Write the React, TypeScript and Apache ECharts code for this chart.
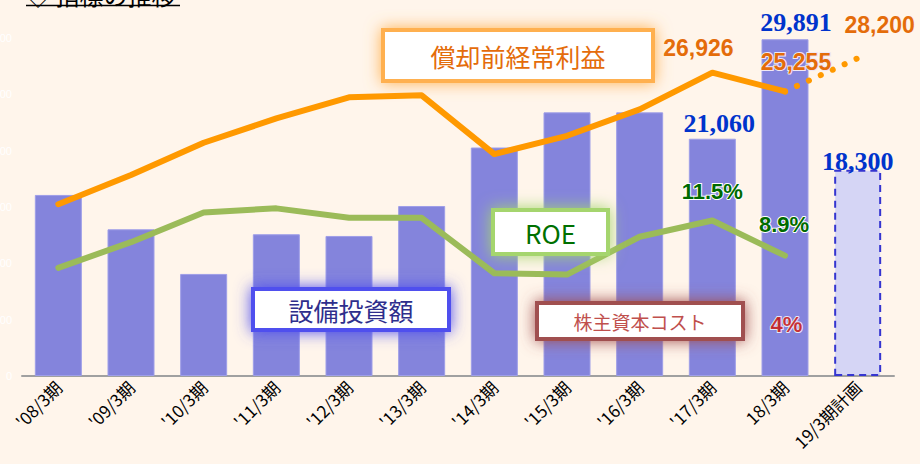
import React, { useEffect, useRef } from "react";
import * as echarts from "echarts";

const categories = ["'08/3期", "'09/3期", "'10/3期", "'11/3期", "'12/3期", "'13/3期", "'14/3期", "'15/3期", "'16/3期", "'17/3期", "18/3期", "19/3期計画"];
const capex = [16070, 13020, 9060, 12580, 12430, 15090, 20280, 23400, 23400, 21060, 29891, 18300];
const ebitda = [15250, 17840, 20700, 22860, 24740, 24910, 19700, 21320, 23660, 26926, 25255, null];
const ebitdaPlan = [null, null, null, null, null, null, null, null, null, null, 25255, 28200];
const roe = [8.0, 9.9, 12.1, 12.4, 11.7, 11.7, 7.6, 7.5, 10.3, 11.5, 8.9, null];
const costOfEquity = [null, null, null, null, null, null, null, null, null, null, 4, null];
const leftTicks = { min: 0, max: 30000, interval: 5000 };
const rightTicks = { min: 0, max: 25 };

const fmt = (v: number) => v.toLocaleString("en-US");

export default function App() {
  const ref = useRef<HTMLDivElement>(null);
  useEffect(() => {
    if (!ref.current) return;
    const chart = echarts.init(ref.current, null, { renderer: "svg" });
    const last = categories.length - 1;

    const blueLabel = {
      show: true,
      position: "top",
      distance: 0,
      color: "#0033CC",
      fontFamily: "Liberation Serif",
      fontWeight: "bold",
      fontSize: 26,
      formatter: (p: any) => fmt(p.value),
    };
    const barOffsets: Record<number, number[]> = { 9: [7, -2], 10: [11, -4], 11: [0, 5] };
    const barData = capex.map((v, i) => {
      const item: any = { value: v };
      if (barOffsets[i]) item.label = { ...blueLabel, offset: barOffsets[i] };
      if (i === last) {
        item.itemStyle = {
          color: "#D5D5F5",
          borderColor: "#3535D0",
          borderWidth: 2,
          borderType: [7, 5],
        };
      }
      return item;
    });

    const orangeLabel = {
      show: true,
      position: "inside",
      color: "#E46C0A",
      fontFamily: "Liberation Sans",
      fontWeight: "bold",
      fontSize: 23,
      formatter: (p: any) => fmt(p.value),
    };
    const ebitdaOffsets: Record<number, number[]> = { 9: [-14, -25], 10: [11, -29] };
    const ebitdaData = ebitda.map((v, i) => {
      const item: any = { value: v };
      if (ebitdaOffsets[i]) {
        item.label = { ...orangeLabel, offset: ebitdaOffsets[i] };
        if (i === 10) {
          item.label.textBorderColor = "#F0E8F4";
          item.label.textBorderWidth = 2;
        }
      }
      return item;
    });
    const planData = ebitdaPlan.map((v, i) => {
      const item: any = { value: v };
      if (i === last) item.label = { ...orangeLabel, offset: [22, -33] };
      return item;
    });

    const greenLabel = {
      show: true,
      position: "inside",
      color: "#006A00",
      fontFamily: "Liberation Sans",
      fontWeight: "bold",
      fontSize: 22,
      textBorderColor: "#ffffff",
      textBorderWidth: 2,
      formatter: (p: any) => p.value.toFixed(1) + "%",
    };
    const roeOffsets: Record<number, number[]> = { 9: [0, -29], 10: [-1, -31] };
    const roeData = roe.map((v, i) => {
      const item: any = { value: v };
      if (roeOffsets[i]) item.label = { ...greenLabel, offset: roeOffsets[i] };
      return item;
    });

    const glowBox = (x: number, y: number, w: number, h: number, glow: string, text: string, color: string, size: number) => [
      {
        type: "rect",
        z: 100,
        shape: { x, y, width: w, height: h },
        style: { fill: "#ffffff", stroke: glow, lineWidth: 4, shadowBlur: 16, shadowColor: glow },
      },
      {
        type: "text",
        z: 101,
        x: x + w / 2,
        y: y + h / 2,
        style: {
          text,
          fill: color,
          fontSize: size,
          fontFamily: "Noto Sans CJK JP",
          align: "center",
          verticalAlign: "middle",
        },
      },
    ];

    chart.setOption({
      animation: false,
      backgroundColor: "#FFF5EB",
      grid: { left: 22, right: 26, top: 38, bottom: 88, containLabel: false, outerBoundsMode: "none" },
      xAxis: {
        type: "category",
        data: categories,
        axisLine: { lineStyle: { color: "#A0A0A0", width: 2 } },
        axisTick: { show: false },
        axisLabel: {
          rotate: 45,
          interval: 0,
          color: "#000",
          fontSize: 17,
          fontFamily: "Noto Sans CJK JP",
          margin: 8,
        },
      },
      yAxis: [
        {
          type: "value",
          ...leftTicks,
          splitLine: { show: false },
          axisLine: { show: false },
          axisTick: { show: false },
          axisLabel: { color: "#ffffff", fontSize: 11, margin: 10, formatter: (v: number) => fmt(v) },
        },
        {
          type: "value",
          ...rightTicks,
          show: false,
          splitLine: { show: false },
        },
      ],
      series: [
        {
          name: "設備投資額",
          type: "bar",
          data: barData,
          barWidth: 47,
          itemStyle: { color: "#8484DC", borderColor: "#9E9EE8", borderWidth: 1 },
          z: 2,
        },
        {
          name: "償却前経常利益",
          type: "line",
          data: ebitdaData,
          symbol: "circle",
          symbolSize: 1,
          itemStyle: { color: "#FF9900" },
          lineStyle: { color: "#FF9900", width: 6, cap: "round", join: "round" },
          z: 3,
        },
        {
          name: "償却前経常利益計画",
          type: "line",
          data: planData,
          symbol: "circle",
          symbolSize: 1,
          itemStyle: { color: "#FF9900" },
          lineStyle: { color: "#FF9900", width: 6, type: [0.1, 13], cap: "round" },
          z: 3,
        },
        {
          name: "ROE",
          type: "line",
          yAxisIndex: 1,
          data: roeData,
          symbol: "circle",
          symbolSize: 1,
          itemStyle: { color: "#9BBB59" },
          lineStyle: { color: "#9BBB59", width: 6, cap: "round", join: "round" },
          z: 3,
        },
        {
          name: "株主資本コスト",
          type: "scatter",
          yAxisIndex: 1,
          data: costOfEquity,
          symbolSize: 0,
          label: {
            show: true,
            position: "inside",
            offset: [1.5, 3],
            color: "#C00000",
            fontFamily: "Liberation Sans",
            fontWeight: "bold",
            fontSize: 22,
            textBorderColor: "#ffffff",
            textBorderWidth: 2,
            formatter: (p: any) => p.value + "%",
          },
          z: 4,
        },
      ],
      graphic: [
        {
          type: "text",
          x: 26,
          y: 6,
          z: 100,
          style: {
            text: "◇ 指標の推移",
            fontSize: 24,
            fontFamily: "Noto Sans CJK JP",
            fill: "#000",
            verticalAlign: "bottom",
          },
        },
        {
          type: "line",
          z: 100,
          shape: { x1: 26, y1: 5.5, x2: 180, y2: 5.5 },
          style: { stroke: "#000", lineWidth: 1.5 },
        },
        ...glowBox(383, 30, 270, 51, "#FFB050", "償却前経常利益", "#E46C0A", 25),
        ...glowBox(493, 210, 115, 44, "#A5D56E", "ROE", "#007000", 26),
        ...glowBox(253, 289, 196, 41, "#5050EE", "設備投資額", "#2E2E8C", 25),
        ...glowBox(537, 303, 206, 36, "#A05050", "株主資本コスト", "#C0504D", 19),
      ],
    });
    return () => chart.dispose();
  }, []);
  return <div ref={ref} style={{ position: "fixed", left: 0, top: 0, width: 920, height: 464 }} />;
}
